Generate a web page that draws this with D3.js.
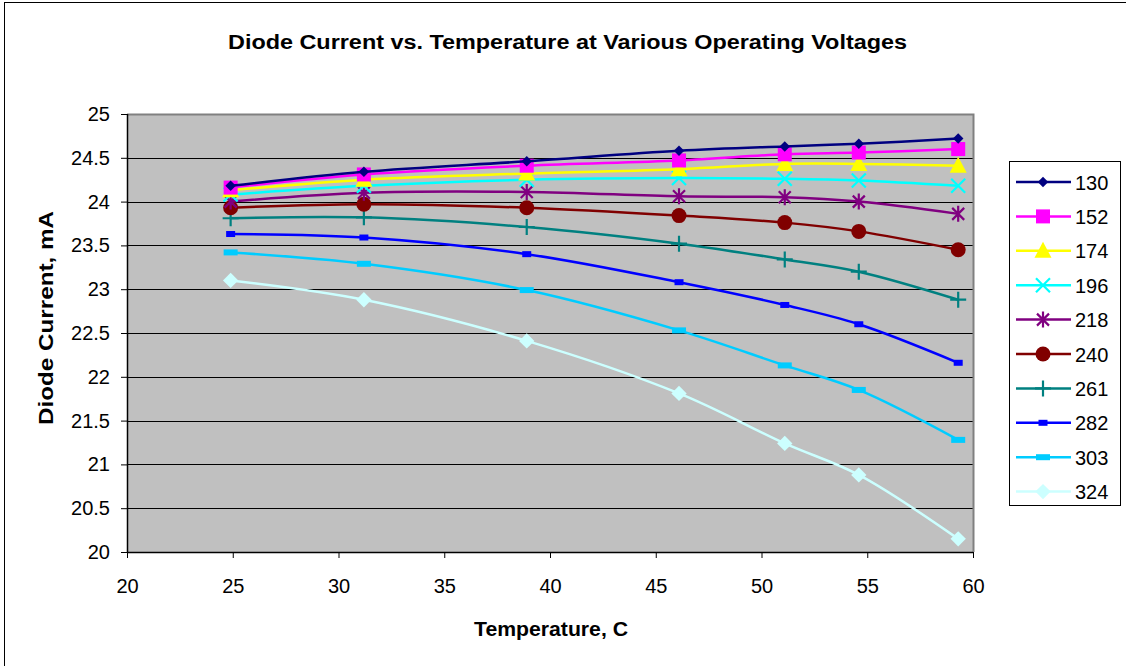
<!DOCTYPE html>
<html>
<head>
<meta charset="utf-8">
<script src="https://cdn.jsdelivr.net/npm/d3@7"></script>
<style>
  html, body { margin: 0; padding: 0; background: #fff; }
  svg { display: block; font-family: "Liberation Sans", Arial, sans-serif; }
</style>
</head>
<body>
<svg id="chart" width="1126" height="666"></svg>
<script>
// Measurement temperatures (C)
const temperatures = [24.9, 31.2, 38.9, 46.1, 51.1, 54.6, 59.3];

// Operating voltages (one series each)
const voltages = ["130", "152", "174", "196", "218", "240", "261", "282", "303", "324"];

// Diode current (mA) per voltage
const current130 = [24.18, 24.34, 24.46, 24.58, 24.63, 24.66, 24.72];
const current152 = [24.16, 24.31, 24.41, 24.47, 24.54, 24.56, 24.60];
const current174 = [24.13, 24.25, 24.32, 24.37, 24.43, 24.43, 24.41];
const current196 = [24.08, 24.18, 24.25, 24.27, 24.26, 24.24, 24.18];
const current218 = [24.00, 24.10, 24.11, 24.06, 24.05, 24.00, 23.86];
const current240 = [23.93, 23.97, 23.93, 23.84, 23.76, 23.66, 23.45];
const current261 = [23.81, 23.82, 23.71, 23.52, 23.34, 23.20, 22.88];
const current282 = [23.63, 23.59, 23.40, 23.08, 22.82, 22.60, 22.16];
const current303 = [23.42, 23.29, 22.99, 22.53, 22.13, 21.85, 21.28];
const current324 = [23.10, 22.88, 22.41, 21.81, 21.24, 20.88, 20.15];

const xTicks = [20, 25, 30, 35, 40, 45, 50, 55, 60];
const yTicks = [20, 20.5, 21, 21.5, 22, 22.5, 23, 23.5, 24, 24.5, 25];

const seriesValues = [current130, current152, current174, current196, current218,
                      current240, current261, current282, current303, current324];
const colors = ["#000080", "#FF00FF", "#FFFF00", "#00FFFF", "#800080",
                "#800000", "#008080", "#0000FF", "#00CCFF", "#CCFFFF"];
const markers = ["diamond", "square", "triangle", "x", "star", "circle", "plus", "smallbar", "bar", "bigdiamond"];

const series = voltages.map((v, i) => ({
  name: v, color: colors[i], marker: markers[i],
  points: temperatures.map((t, j) => ({ t, c: seriesValues[i][j] }))
}));

const svg = d3.select("#chart");
const font = "'Liberation Sans', Arial, sans-serif";

// Chart frame
svg.append("rect").attr("x", 4.5).attr("y", 2.5).attr("width", 1200).attr("height", 700)
  .attr("fill", "#fff").attr("stroke", "#000").attr("stroke-width", 1);

const plot = { left: 127, right: 973, top: 114, bottom: 552 };
const x = d3.scaleLinear().domain([20, 60]).range([plot.left, plot.right]);
const y = d3.scaleLinear().domain([20, 25]).range([plot.bottom, plot.top]);

// Plot background
svg.append("rect")
  .attr("x", plot.left).attr("y", plot.top)
  .attr("width", plot.right - plot.left).attr("height", plot.bottom - plot.top)
  .attr("fill", "#C0C0C0");

// Horizontal gridlines
svg.append("g").selectAll("line").data(yTicks.filter(d => d > 20 && d < 25)).join("line")
  .attr("x1", plot.left).attr("x2", plot.right)
  .attr("y1", d => Math.round(y(d)) + 0.5).attr("y2", d => Math.round(y(d)) + 0.5)
  .attr("stroke", "#000").attr("stroke-width", 1);

// Plot border (gray top/right)
svg.append("path")
  .attr("d", `M${plot.left},${plot.top + 0.5}H${plot.right + 0.5}V${plot.bottom}`)
  .attr("fill", "none").attr("stroke", "#808080").attr("stroke-width", 2);

// Axes
const yAxis = d3.axisLeft(y).tickValues(yTicks).tickSize(6).tickPadding(11)
  .tickFormat(d => d3.format("")(d));
const xAxis = d3.axisBottom(x).tickValues(xTicks).tickSize(6).tickPadding(21)
  .tickFormat(d3.format("d"));

const gy = svg.append("g").attr("transform", `translate(${plot.left},0)`).call(yAxis);
const gx = svg.append("g").attr("transform", `translate(0,${plot.bottom})`).call(xAxis);
[gx, gy].forEach(g => {
  g.attr("font-size", null).attr("font-family", null);
  g.select(".domain").attr("stroke", "#000").attr("stroke-width", 1.5);
  g.selectAll(".tick line").attr("stroke", "#000").attr("stroke-width", 1);
  g.selectAll(".tick text").attr("fill", "#000").style("font-size", "20px").style("font-family", font);
});
gy.select(".domain").attr("d", `M0.5,${plot.top}V${plot.bottom}`);
gx.select(".domain").attr("d", `M${plot.left},0.5H${plot.right}`);

// Marker drawing
function drawMarker(g, type, color) {
  switch (type) {
    case "diamond":
      g.append("path").attr("d", d3.symbol(d3.symbolDiamond2, 70)()).attr("fill", color); break;
    case "square":
      g.append("rect").attr("x", -7).attr("y", -7).attr("width", 14).attr("height", 14).attr("fill", color); break;
    case "triangle":
      g.append("path").attr("d", "M0,-9L8.5,7L-8.5,7Z").attr("fill", color); break;
    case "x":
      g.append("path").attr("d", "M-7,-7L7,7M-7,7L7,-7").attr("stroke", color).attr("stroke-width", 2.2).attr("fill", "none"); break;
    case "star":
      g.append("path").attr("d", "M-6,-6L6,6M-6,6L6,-6M0,-8V8").attr("stroke", color).attr("stroke-width", 2.2).attr("fill", "none"); break;
    case "circle":
      g.append("circle").attr("r", 7.5).attr("fill", color); break;
    case "plus":
      g.append("path").attr("d", "M-8,0H8M0,-8V8").attr("stroke", color).attr("stroke-width", 2.2).attr("fill", "none"); break;
    case "smallbar":
      g.append("rect").attr("x", -4.5).attr("y", -3).attr("width", 9).attr("height", 6).attr("fill", color); break;
    case "bar":
      g.append("rect").attr("x", -7).attr("y", -3).attr("width", 14).attr("height", 6).attr("fill", color); break;
    case "bigdiamond":
      g.append("path").attr("d", d3.symbol(d3.symbolDiamond2, 150)()).attr("fill", color); break;
  }
}

const line = d3.line().x(d => x(d.t)).y(d => y(d.c)).curve(d3.curveCatmullRom.alpha(0.5));

const seriesG = svg.append("g").selectAll("g").data(series.slice().reverse()).join("g");
seriesG.append("path")
  .attr("d", d => line(d.points))
  .attr("fill", "none").attr("stroke", d => d.color).attr("stroke-width", 2.5);
seriesG.each(function (s) {
  d3.select(this).selectAll("g.m").data(s.points).join("g").attr("class", "m")
    .attr("transform", p => `translate(${x(p.t)},${y(p.c)})`)
    .each(function () { drawMarker(d3.select(this), s.marker, s.color); });
});

// Legend
const legend = svg.append("g");
legend.append("rect").attr("x", 1009.5).attr("y", 161.5).attr("width", 111).attr("height", 344)
  .attr("fill", "#fff").attr("stroke", "#000").attr("stroke-width", 1);
const items = legend.selectAll("g").data(series).join("g")
  .attr("transform", (d, i) => `translate(0,${182 + i * 34.4})`);
items.append("line").attr("x1", 1016).attr("x2", 1071).attr("y1", 0).attr("y2", 0)
  .attr("stroke", d => d.color).attr("stroke-width", 2.5);
items.append("g").attr("transform", "translate(1043,0)")
  .each(function (d) { drawMarker(d3.select(this), d.marker, d.color); });
items.append("text").attr("x", 1075).attr("y", 7.5).text(d => d.name)
  .style("font-size", "20px").style("font-family", font).attr("fill", "#000");

// Titles
function boldText(tx, ty, len, label, rotate) {
  const t = svg.append("text")
    .attr("transform", `translate(${tx},${ty})` + (rotate ? " rotate(-90)" : ""))
    .attr("text-anchor", "middle")
    .attr("textLength", len).attr("lengthAdjust", "spacingAndGlyphs")
    .style("font-size", "20px").style("font-weight", "bold").style("font-family", font)
    .attr("fill", "#000")
    .text(label);
  return t;
}
boldText(567.5, 49, 679, "Diode Current vs. Temperature at Various Operating Voltages");
boldText(551, 636, 154, "Temperature, C");
boldText(53, 318, 214, "Diode Current, mA", true);
</script>
</body>
</html>
